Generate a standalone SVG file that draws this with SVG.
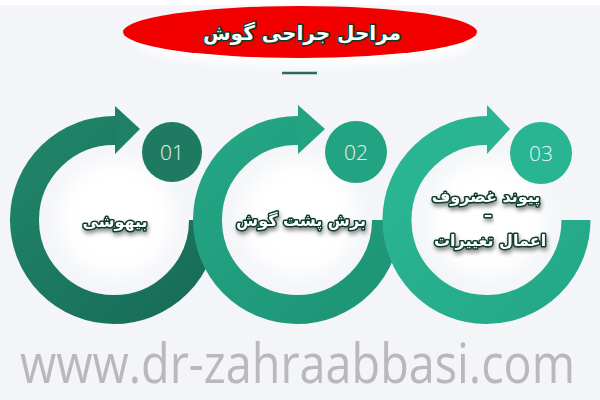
<svg xmlns="http://www.w3.org/2000/svg" width="600" height="400" viewBox="0 0 600 400">
<defs>
<style>
.ring{fill:none;stroke-width:29;stroke-linecap:butt}
.num{font-family:"Open Sans","Liberation Sans",sans-serif;font-size:21px;fill:#e9f3f0;text-anchor:middle;font-weight:300}
.lbl{font-family:"DejaVu Sans","Noto Sans",sans-serif;font-weight:bold;font-size:16px;fill:#ffffff;stroke:#0c3b2e;stroke-width:3;paint-order:stroke;stroke-linejoin:round;text-anchor:middle;filter:url(#sh)}
</style>
<filter id="sh" x="-20%" y="-40%" width="140%" height="190%"><feDropShadow dx="1" dy="3" stdDeviation="2" flood-color="#000" flood-opacity="0.45"/></filter>
<filter id="glow" x="-50%" y="-50%" width="200%" height="200%"><feGaussianBlur stdDeviation="10"/></filter>
<filter id="soft" x="-20%" y="-50%" width="140%" height="200%"><feGaussianBlur stdDeviation="4"/></filter>
<linearGradient id="g1" x1="0" y1="0" x2="1" y2="1"><stop offset="0" stop-color="#208569"/><stop offset="1" stop-color="#176c57"/></linearGradient>
<linearGradient id="g2" x1="0" y1="0" x2="1" y2="1"><stop offset="0" stop-color="#24a684"/><stop offset="1" stop-color="#1d9475"/></linearGradient>
<linearGradient id="g3" x1="0" y1="0" x2="1" y2="1"><stop offset="0" stop-color="#2bb794"/><stop offset="1" stop-color="#24a887"/></linearGradient>
</defs>
<rect width="600" height="400" fill="#f3f5f8"/>
<rect width="600" height="5" fill="#ffffff"/>

<g id="title">
<ellipse cx="305" cy="42" rx="170" ry="24" fill="#ffffff" filter="url(#soft)"/>
<ellipse cx="300" cy="32" rx="177" ry="26" fill="#f20000"/>
<text x="302" y="40" font-family="DejaVu Sans,sans-serif" font-weight="bold" font-size="20" fill="#ffffff" stroke="#0c3b2e" stroke-width="3" paint-order="stroke" stroke-linejoin="round" text-anchor="middle" direction="rtl">مراحل جراحی گوش</text>
<line x1="282" y1="73" x2="317" y2="73" stroke="#2e6b5a" stroke-width="2.5"/>
</g>

<g id="step1">
<circle cx="116" cy="218" r="58" fill="#ffffff" filter="url(#glow)"/>
<path class="ring" stroke="url(#g1)" d="M203.5 220 A89.5 89.5 0 1 1 116 130.5"/>
<polygon points="115,106 140,129 115,154" fill="#1e8065"/>
<circle cx="172" cy="152" r="30" fill="#1e7b62"/>
<text class="num" x="172" y="160">01</text>
<text class="lbl" x="115" y="227" direction="rtl">بیهوشی</text>
</g>

<g id="step2">
<circle cx="299" cy="218" r="58" fill="#ffffff" filter="url(#glow)"/>
<path class="ring" stroke="url(#g2)" d="M386.5 220 A89.5 89.5 0 1 1 299 130.5"/>
<polygon points="298,105 325,129 298,154" fill="#23a382"/>
<circle cx="356" cy="152" r="31" fill="#22a382"/>
<text class="num" x="356" y="160">02</text>
<text class="lbl" x="301" y="226" direction="rtl">برش پشت گوش</text>
</g>

<g id="step3">
<circle cx="488" cy="218" r="58" fill="#ffffff" filter="url(#glow)"/>
<path class="ring" stroke="url(#g3)" d="M576 220 A89.5 89.5 0 1 1 488 130.5"/>
<polygon points="487,105 510,129 487,154" fill="#2ab592"/>
<circle cx="541" cy="153" r="31" fill="#29b592"/>
<text class="num" x="541" y="161">03</text>
<text class="lbl" x="486" y="202" direction="rtl">پیوند غضروف</text>
<text class="lbl" x="488" y="220">–</text>
<text class="lbl" x="490" y="246" direction="rtl">اعمال تغییرات</text>
</g>

<g id="connectors"/>

<text x="0" y="0" transform="translate(20,383) scale(1,1.15)" font-family="Open Sans,Liberation Sans,sans-serif" font-size="47" fill="#b9b9bd" textLength="555" lengthAdjust="spacingAndGlyphs">www.dr-zahraabbasi.com</text>
</svg>
